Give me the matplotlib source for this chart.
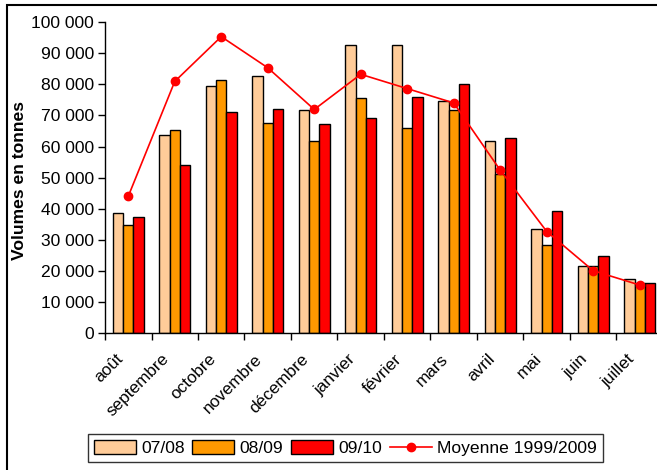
import matplotlib
matplotlib.use("Agg")
import matplotlib.pyplot as plt
import matplotlib.transforms as mtransforms
from matplotlib.patches import Rectangle
from matplotlib.ticker import FuncFormatter, FixedLocator
import numpy as np

plt.rcParams['font.family'] = ['Liberation Sans', 'DejaVu Sans']

months = ["août", "septembre", "octobre", "novembre", "décembre", "janvier",
          "février", "mars", "avril", "mai", "juin", "juillet"]
s0708 = [38800, 63600, 79300, 82800, 71600, 92700, 92700, 74600, 61700, 33400, 21700, 17600]
s0809 = [34800, 65200, 81500, 67500, 61700, 75700, 65800, 71600, 51300, 28400, 21500, 16100]
s0910 = [37400, 54100, 71200, 72100, 67200, 69300, 76000, 80000, 62600, 39200, 24700, 16100]
moyenne = [44000, 80900, 95300, 85300, 71900, 83200, 78600, 74000, 52400, 32700, 20100, 15500]
series_labels = ["07/08", "08/09", "09/10", "Moyenne 1999/2009"]
colors = ["#FFCC99", "#FF9900", "#FF0000"]

W, H = 657, 470
fig = plt.figure(figsize=(W / 100, H / 100), dpi=100)

# outer frame (clipped on right/bottom as in reference)
fig.patches.append(Rectangle((7 / W, -0.05), 1.1, 1 - 5 / H + 0.05, transform=fig.transFigure,
                             fill=False, edgecolor="black", linewidth=1.5))

left, right, top, bottom = 105, 663, 22, 333.3
ax = fig.add_axes([left / W, 1 - bottom / H, (right - left) / W, (bottom - top) / H])

x = np.arange(len(months))
bw = 0.22
bars = []
for i, (vals, c, lab) in enumerate(zip([s0708, s0809, s0910], colors, series_labels[:3])):
    b = ax.bar(x + (i - 1) * bw, vals, width=bw, color=c, edgecolor="black", linewidth=1.0,
               label=lab, zorder=2)
    bars.append(b)
line, = ax.plot(x, moyenne, color="#FF0000", marker="o", markersize=6, linewidth=1.2,
                label=series_labels[3], zorder=3)

ax.set_xlim(-0.5, len(months) - 0.5)
ax.set_ylim(0, 100000)
ax.set_yticks(np.arange(0, 100001, 10000))
ax.yaxis.set_major_formatter(FuncFormatter(lambda v, p: f"{int(v):,}".replace(",", " ")))
ax.tick_params(axis="y", labelsize=12.6, length=5, width=1, direction="out", pad=3)

ax.xaxis.set_major_locator(FixedLocator(x))
ax.set_xticklabels(months, rotation=45, ha="right", rotation_mode="anchor", fontsize=12.3)
ax.tick_params(axis="x", which="major", length=0, pad=13)
ax.xaxis.set_minor_locator(FixedLocator(np.arange(-0.5, len(months), 1.0)))
ax.tick_params(axis="x", which="minor", length=5, width=1, direction="out")
offset = mtransforms.ScaledTranslation(-0.13, 0.0, fig.dpi_scale_trans)
for lbl in ax.get_xticklabels():
    lbl.set_transform(lbl.get_transform() + offset)

for s in ["top", "right"]:
    ax.spines[s].set_visible(False)
ax.spines["left"].set_linewidth(1)
ax.spines["bottom"].set_linewidth(1)

fig.text(20 / W, 1 - 180 / H, "Volumes en tonnes", rotation=90, fontsize=12.6,
         fontweight="bold", ha="center", va="center")

handles = [bars[0], bars[1], bars[2], line]
leg = fig.legend(handles, series_labels, loc="center", bbox_to_anchor=(345.5 / W, 1 - 448 / H),
                 ncol=4, fontsize=12.6, frameon=True, fancybox=False, edgecolor="black",
                 handlelength=2.4, handleheight=0.8, handletextpad=0.3, columnspacing=0.45,
                 borderpad=0.35, borderaxespad=0)
leg.get_frame().set_linewidth(1)

fig.savefig("out.png", dpi=100)
